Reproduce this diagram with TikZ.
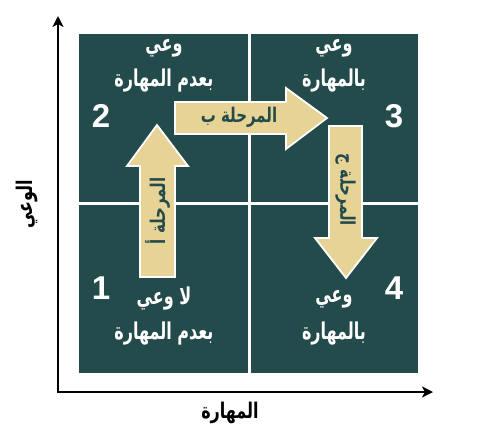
\documentclass[tikz,border=0pt]{standalone}
\usepackage{fontspec}
\usepackage{graphicx}
\setmainfont{Liberation Sans}
\newfontfamily\arabicfont[Script=Arabic]{DejaVu Sans}
\TeXXeTstate=1
\usetikzlibrary{arrows.meta}
\definecolor{quad}{HTML}{234B4B}
\definecolor{tan}{HTML}{E8D396}
\newcommand{\artxt}[1]{\scalebox{1}[1.35]{\beginR #1\endR}}
\newcommand{\artxtq}[1]{\scalebox{1}[1.45]{\beginR #1\endR}}
\tikzset{
  quadbox/.style={fill=quad,draw=none},
  qtext/.style={text=white,font=\arabicfont\bfseries\fontsize{16}{18}\selectfont,inner sep=0pt},
  qnum/.style={text=white,font=\bfseries\fontsize{33}{35}\selectfont,inner sep=0pt},
  phase/.style={fill=tan,draw=white,line width=1.8pt,line join=miter},
  plabel/.style={text=quad,font=\arabicfont\bfseries\fontsize{15}{17}\selectfont,inner sep=0pt},
  axis/.style={line width=2pt,-{Stealth[length=11pt,width=11pt,inset=3pt]}},
  alabel/.style={text=black,font=\arabicfont\bfseries\fontsize{16}{18}\selectfont,inner sep=0pt}
}
\begin{document}
\begin{tikzpicture}[x=1pt,y=-1pt]
\useasboundingbox (0,0) rectangle (495,432);
% quadrants
\path[quadbox] (79,34) rectangle (247.7,202.3);
\path[quadbox] (250.7,34) rectangle (418,202.3);
\path[quadbox] (79,205.3) rectangle (247.7,372.5);
\path[quadbox] (250.7,205.3) rectangle (418,372.5);
% axes
\coordinate (o) at (58,392);
\coordinate (ytop) at (58,16);
\coordinate (xend) at (433,392);
\draw[axis] ([yshift=-1pt]o) -- (ytop);
\draw[axis] ([xshift=-1pt]o) -- (xend);
\node[alabel] (xl) at (230,413) {\artxt{المهارة}};
\node[alabel,rotate=90] (yl) at (27,204) {\artxt{الوعي}};
% quadrant texts
\node[qtext] (q2a) at (164,48) {\artxtq{وعي}};
\node[qtext] (q2b) at (164,81) {\artxtq{بعدم المهارة}};
\node[qtext] (q3a) at (334,48) {\artxtq{وعي}};
\node[qtext] (q3b) at (334,81) {\artxtq{بالمهارة}};
\node[qtext] (q1a) at (164,299) {\artxtq{لا وعي}};
\node[qtext] (q1b) at (164,334) {\artxtq{بعدم المهارة}};
\node[qtext] (q4a) at (334,299) {\artxtq{وعي}};
\node[qtext] (q4b) at (334,334) {\artxtq{بالمهارة}};
\node[qnum] (n2) at (101,116) {2};
\node[qnum] (n3) at (394,116) {3};
\node[qnum] (n1) at (101,288) {1};
\node[qnum] (n4) at (394,288) {4};
% phase A (up)
\draw[phase] (140,277) -- (140,166) -- (127,166) -- (157,125) -- (188,166) -- (175,166) -- (175,277) -- cycle;
\node[plabel,rotate=90] (pa) at (157.5,211) {\artxt{المرحلة أ}};
% phase B (right)
\draw[phase] (175,102) -- (286,102) -- (286,88) -- (327,118) -- (286,149) -- (286,134) -- (175,134) -- cycle;
\node[plabel] (pb) at (239,117) {\artxt{المرحلة ب}};
% phase C (down)
\draw[phase] (329,126) -- (362,126) -- (362,238) -- (377,238) -- (346,278) -- (315,238) -- (329,238) -- cycle;
\node[plabel,rotate=-90] (pc) at (345.5,190) {\artxt{المرحلة ج}};
\end{tikzpicture}
\end{document}
